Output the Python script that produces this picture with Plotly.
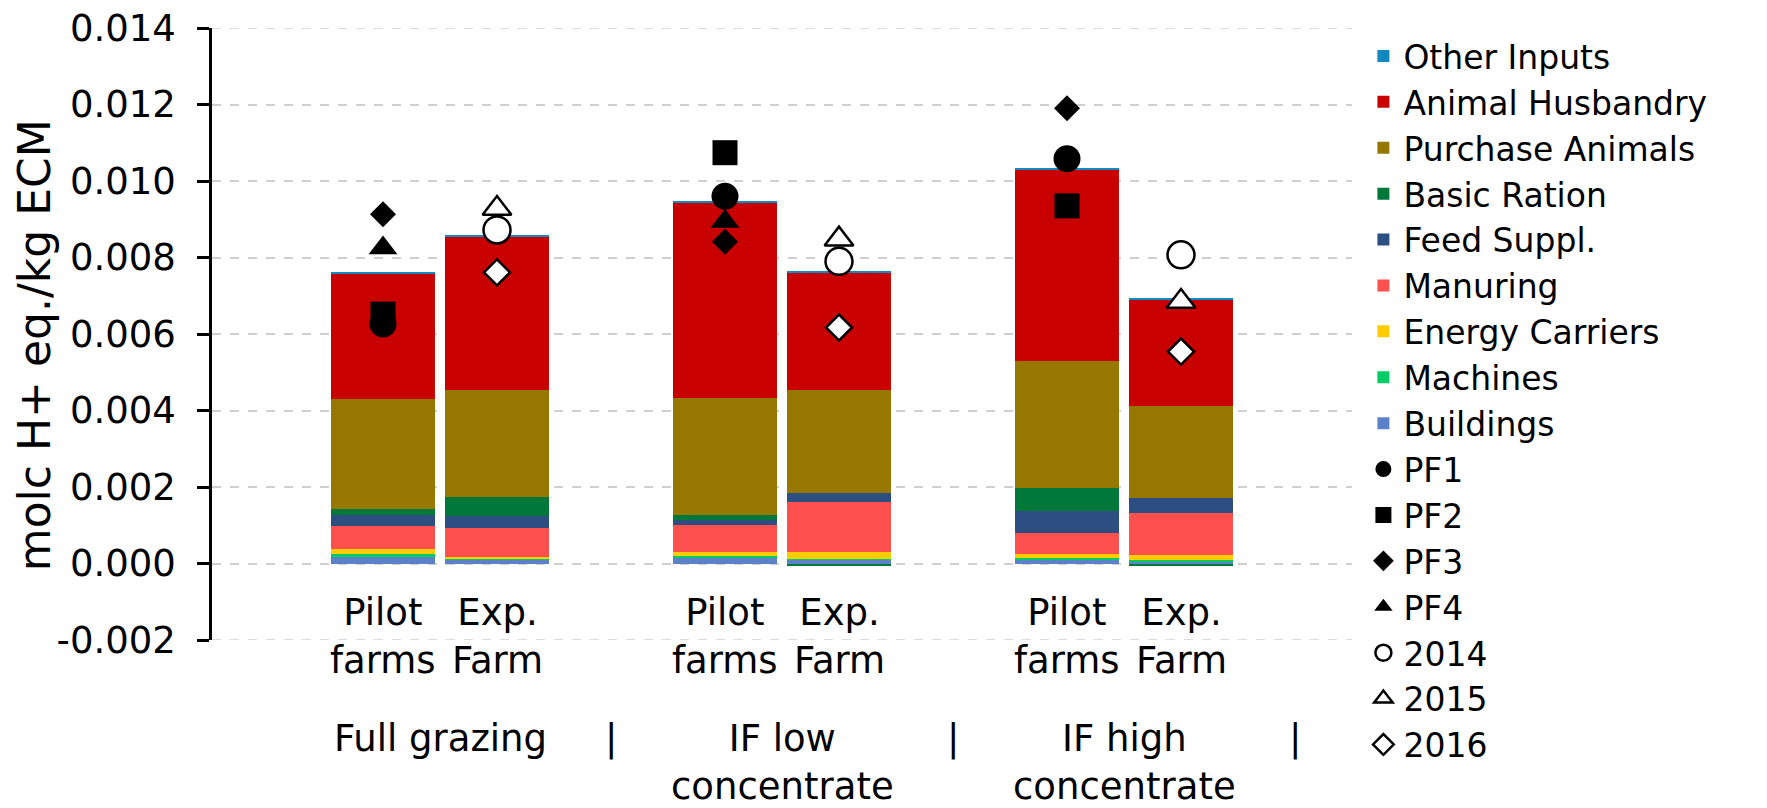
import plotly.graph_objects as go

# ---------------- data ----------------
x_pos = [1.5, 2.5, 4.5, 5.5, 7.5, 8.5]
bar_labels = ["Pilot<br>farms", "Exp.<br>Farm", "Pilot<br>farms", "Exp.<br>Farm", "Pilot<br>farms", "Exp.<br>Farm"]
group_pos = [2.0, 5.0, 8.0]
group_labels = ["Full grazing", "IF low<br>concentrate", "IF high<br>concentrate"]
sep_pos = [3.5, 6.5, 9.5]
y_title = "molc H+ eq./kg ECM"

buildings = [0.00016, 0.00010, 0.00015, 0.00010, 0.00010, 0.00006]
machines = [0.00008, 0.00004, 0.00004, 0.00003, 0.00004, 0.00004]
energy = [0.00013, 0.00003, 0.00011, 0.00016, 0.00011, 0.00012]
manuring = [0.00061, 0.00077, 0.00071, 0.00132, 0.00054, 0.00111]
feed_suppl = [0.00030, 0.00030, 0.00012, 0.00024, 0.00057, 0.00037]
basic_ration = [0.00014, 0.00050, 0.00013, -0.00006, 0.00061, -0.00006]
purchase_animals = [0.00288, 0.00279, 0.00306, 0.00268, 0.00332, 0.00242]
animal_husbandry = [0.00327, 0.00403, 0.00512, 0.00307, 0.00502, 0.00277]
other_inputs = [0.00003, 0.00003, 0.00003, 0.00003, 0.00003, 0.00003]

pf1 = [0.00626, None, 0.00960, None, 0.01058, None]
pf2 = [0.00652, None, 0.01074, None, 0.00935, None]
pf3 = [0.00913, None, 0.00841, None, 0.01190, None]
pf4 = [0.00825, None, 0.00894, None, None, None]
y2014 = [None, 0.00872, None, 0.00790, None, 0.00807]
y2015 = [None, 0.00928, None, 0.00848, None, 0.00685]
y2016 = [None, 0.00761, None, 0.00617, None, 0.00554]

y_min, y_max = -0.002, 0.014
y_tickvals = [-0.002, 0.0, 0.002, 0.004, 0.006, 0.008, 0.010, 0.012, 0.014]
y_ticktext = ["-0.002", "0.000", "0.002", "0.004", "0.006", "0.008", "0.010", "0.012", "0.014"]

# ---------------- figure ----------------
FONT = "DejaVu Sans, Liberation Sans, Arial, sans-serif"
fig = go.Figure()

bar_series = [
    ("Buildings", buildings, "#5B82C8"),
    ("Machines", machines, "#00CC66"),
    ("Energy Carriers", energy, "#FFCC00"),
    ("Manuring", manuring, "#FF5050"),
    ("Feed Suppl.", feed_suppl, "#2D4E80"),
    ("Basic Ration", basic_ration, "#00783A"),
    ("Purchase Animals", purchase_animals, "#967800"),
    ("Animal Husbandry", animal_husbandry, "#C80000"),
    ("Other Inputs", other_inputs, "#1188C0"),
]
n = len(bar_series)
for i, (name, vals, col) in enumerate(bar_series):
    fig.add_trace(go.Bar(
        x=x_pos, y=vals, name=name, width=0.91,
        marker=dict(color=col, line=dict(width=0)),
        legendrank=n - i,
    ))

marker_series = [
    ("PF1", pf1, "circle", 27, "black"),
    ("PF2", pf2, "square", 25, "black"),
    ("PF3", pf3, "diamond", 20, "black"),
    ("PF4", pf4, "triangle-up", 25, "black"),
    ("2014", y2014, "circle", 27, "white"),
    ("2015", y2015, "triangle-up", 25, "white"),
    ("2016", y2016, "diamond", 20, "white"),
]
for j, (name, vals, sym, size, fill) in enumerate(marker_series):
    fig.add_trace(go.Scatter(
        x=x_pos, y=vals, name=name, mode="markers",
        marker=dict(symbol=sym, size=size, color=fill,
                    line=dict(color="black", width=2.5 if fill == "white" else 0)),
        legendrank=20 + j,
    ))

annotations = []
for xp, lab in zip(x_pos, bar_labels):
    annotations.append(dict(x=xp, y=0.083, xref="x", yref="paper", text=lab,
                            showarrow=False, yanchor="top", xanchor="center",
                            font=dict(size=37, color="black", family=FONT)))
for xp, lab in zip(group_pos, group_labels):
    annotations.append(dict(x=xp, y=-0.122, xref="x", yref="paper", text=lab,
                            showarrow=False, yanchor="top", xanchor="center",
                            font=dict(size=37, color="black", family=FONT)))
for xp in sep_pos:
    annotations.append(dict(x=xp, y=-0.122, xref="x", yref="paper", text="|",
                            showarrow=False, yanchor="top", xanchor="center",
                            font=dict(size=37, color="black", family=FONT)))
annotations.append(dict(x=-0.156, y=0.482, xref="paper", yref="paper", text=y_title,
                        textangle=-90, showarrow=False, xanchor="center", yanchor="middle",
                        font=dict(size=44, color="black", family=FONT)))

# boundary gridlines (Plotly omits gridlines that sit exactly on the range ends)
shapes = [dict(type="line", xref="paper", yref="y", x0=0, x1=1, y0=yv, y1=yv,
               layer="below", line=dict(color="#D0D0D0", width=1.5, dash="dash"))
          for yv in (y_min, y_max)]

fig.update_layout(
    width=1759, height=800,
    margin=dict(l=204, r=415, t=20, b=168, autoexpand=False),
    paper_bgcolor="white", plot_bgcolor="white",
    barmode="relative", bargap=0,
    font=dict(family=FONT, size=37, color="black"),
    showlegend=True,
    legend=dict(x=1.01, y=1.0, xanchor="left", yanchor="top", maxheight=800,
                font=dict(size=33, family=FONT, color="black"),
                bgcolor="rgba(0,0,0,0)", tracegroupgap=0, itemwidth=30),
    annotations=annotations,
    shapes=shapes,
)
fig.update_xaxes(range=[0, 10], showticklabels=False, showgrid=False,
                 zeroline=False, showline=False, ticks="")
fig.update_yaxes(range=[y_min, y_max], tickvals=y_tickvals, ticktext=y_ticktext,
                 showgrid=True, gridcolor="#D0D0D0", griddash="dash", gridwidth=1.5,
                 zeroline=False, showline=True, linecolor="black", linewidth=2.5,
                 ticks="outside", ticklen=12, tickwidth=2.5, tickcolor="black",
                 ticklabelstandoff=14, ticklabeloverflow="allow",
                 tickfont=dict(size=37, family=FONT, color="black"))

fig.write_html("out.html")
